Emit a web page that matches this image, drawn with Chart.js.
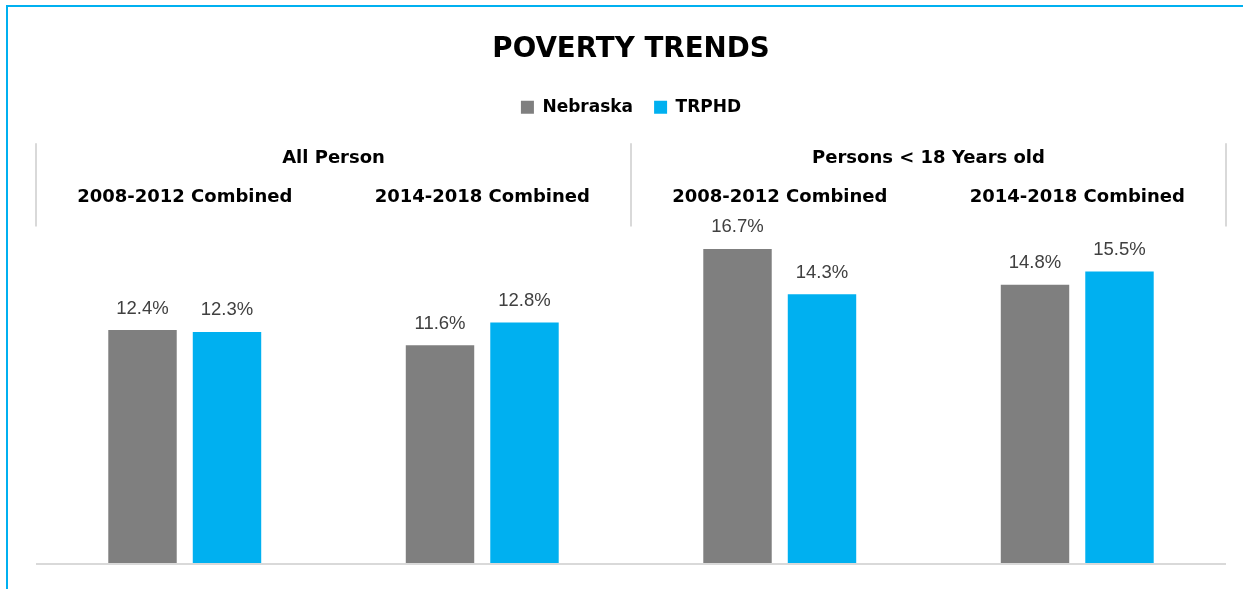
<!DOCTYPE html>
<html>
<head>
<meta charset="utf-8">
<script src="https://cdn.jsdelivr.net/npm/chart.js@4.4.1/dist/chart.umd.min.js"></script>
<style>
  html, body { margin: 0; padding: 0; background: #fff; }
  #frame { position: absolute; left: 6px; top: 5px; width: 1300px; height: 700px;
           border-top: 2px solid #00b0f0; border-left: 2px solid #00b0f0; }
  #wrap { position: absolute; left: 0; top: 0; width: 1243px; height: 589px; }
</style>
</head>
<body>
<div id="frame"></div>
<div id="wrap"><canvas id="chart" width="1243" height="589"></canvas></div>
<script>
// data
const periods = ['2008-2012 Combined', '2014-2018 Combined', '2008-2012 Combined', '2014-2018 Combined'];
const groups = ['All Person', 'Persons < 18 Years old'];
const nebraska = [12.4, 11.6, 16.7, 14.8];
const trphd = [12.3, 12.8, 14.3, 15.5];

const headFont = '"DejaVu Sans", sans-serif';

// value labels above each bar
const valueLabels = {
    id: 'valueLabels',
    afterDatasetsDraw(chart) {
        const ctx = chart.ctx;
        ctx.save();
        ctx.font = '18.5px "Liberation Sans", sans-serif';
        ctx.fillStyle = '#404040';
        ctx.textAlign = 'center';
        ctx.textBaseline = 'alphabetic';
        chart.data.datasets.forEach((ds, i) => {
            chart.getDatasetMeta(i).data.forEach((bar, j) => {
                ctx.fillText(ds.data[j].toFixed(1) + '%', bar.x, bar.y - 16.5);
            });
        });
        ctx.restore();
    }
};

// vertical separators between the label groups
const separators = {
    id: 'separators',
    afterDraw(chart) {
        const xs = chart.scales.x, x2 = chart.scales.x2;
        const mid = (xs.getPixelForValue(1) + xs.getPixelForValue(2)) / 2;
        const ctx = chart.ctx;
        ctx.save();
        ctx.strokeStyle = '#d9d9d9';
        ctx.lineWidth = 2;
        [xs.left, mid, xs.right].forEach(px => {
            ctx.beginPath();
            ctx.moveTo(px, x2.bottom - 26);
            ctx.lineTo(px, xs.bottom + 2);
            ctx.stroke();
        });
        ctx.restore();
    }
};

new Chart(document.getElementById('chart'), {
    type: 'bar',
    data: {
        labels: periods,
        datasets: [
            { label: 'Nebraska', data: nebraska, backgroundColor: '#7f7f7f' },
            { label: 'TRPHD', data: trphd, backgroundColor: '#00b0f0' }
        ]
    },
    options: {
        responsive: false,
        animation: false,
        categoryPercentage: 0.568,
        barPercentage: 0.81,
        layout: { padding: { top: 16, left: 36, right: 17, bottom: 25 } },
        plugins: {
            title: {
                display: true,
                text: 'POVERTY TRENDS',
                color: '#000',
                font: { family: headFont, size: 27.7, weight: 'bold' },
                padding: { top: 17, bottom: 11.5 }
            },
            legend: {
                position: 'top',
                labels: {
                    color: '#000',
                    font: { family: headFont, size: 17, weight: 'bold' },
                    boxWidth: 13,
                    boxHeight: 13,
                    padding: 21
                }
            },
            tooltip: { enabled: false }
        },
        scales: {
            x: {
                position: 'top',
                weight: 0,
                grid: { display: false, drawTicks: false },
                border: { display: false },
                ticks: {
                    color: '#000',
                    font: { family: headFont, size: 18, weight: 'bold' },
                    padding: 16.8,
                    maxRotation: 0,
                    autoSkip: false
                }
            },
            x2: {
                type: 'category',
                labels: groups,
                position: 'top',
                weight: 1,
                offset: true,
                afterFit(scale) { scale.height += 21.5; },
                grid: { display: false, drawTicks: false },
                border: { display: false },
                ticks: {
                    color: '#000',
                    font: { family: headFont, size: 18, weight: 'bold' },
                    padding: 0.2,
                    maxRotation: 0
                }
            },
            y: {
                min: 0,
                max: 18,
                afterFit(scale) { scale.width = 0; },
                ticks: { display: false },
                border: { display: false },
                grid: {
                    drawTicks: false,
                    lineWidth: 2,
                    color: c => c.tick.value === 0 ? '#d9d9d9' : 'rgba(0,0,0,0)'
                }
            }
        }
    },
    plugins: [valueLabels, separators]
});
</script>
</body>
</html>
